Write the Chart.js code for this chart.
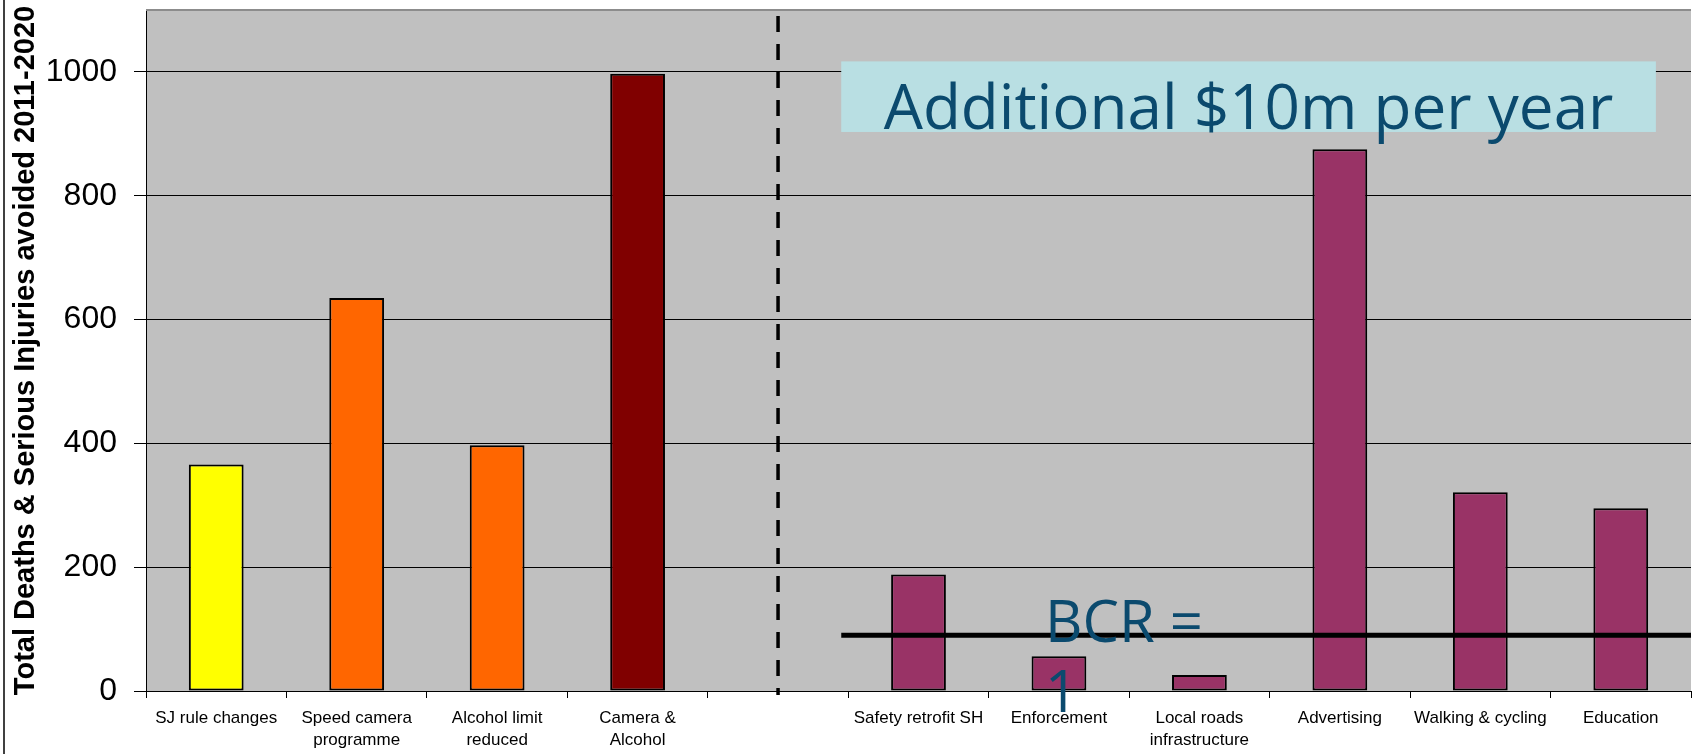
<!DOCTYPE html>
<html>
<head>
<meta charset="utf-8">
<title>Deaths & Serious Injuries avoided</title>
<script src="https://cdn.jsdelivr.net/npm/chart.js@4.4.1/dist/chart.umd.min.js"></script>
<style>
    body { margin: 0; background: #fff; }
    #wrap { position: relative; width: 1693px; height: 754px; }
</style>
</head>
<body>
<div id="wrap"><canvas id="chart-dsi"></canvas></div>
<script>
// categories (slot 5 is the empty gap with the dashed divider)
const categories = [
    "SJ rule changes",
    ["Speed camera", "programme"],
    ["Alcohol limit", "reduced"],
    ["Camera &", "Alcohol"],
    "",
    "Safety retrofit SH",
    "Enforcement",
    ["Local roads", "infrastructure"],
    "Advertising",
    "Walking & cycling",
    "Education",
];
const deathsAvoided = [366, 635, 397, 997, null, 188, 56, 26, 875, 321, 295];
const barColours = [
    "#ffff00", "#ff6600", "#ff6600", "#800000", "#c0c0c0",
    "#993366", "#993366", "#993366", "#993366", "#993366", "#993366",
];
const yTicks = [0, 200, 400, 600, 800, 1000];
const bcrLevel = 90;
const dividerAt = 4;

const boxText = "Additional $10m per year";
const bcrText = ["BCR =", "1"];

const extras = {
    id: "extras",
    beforeDraw(chart) {
        const { ctx, chartArea: a } = chart;
        ctx.save();
        ctx.fillStyle = "#c0c0c0";
        ctx.fillRect(a.left, a.top, a.right - a.left, a.bottom - a.top);
        // outer frame on the left
        ctx.fillStyle = "#404040";
        ctx.fillRect(3, 0, 2, chart.height);
        ctx.restore();
    },
    afterDatasetsDraw(chart) {
        const { ctx, chartArea: a } = chart;
        const x = chart.scales.x;
        const y = chart.scales.y;
        ctx.save();

        // top border of plot
        ctx.strokeStyle = "#8c8c8c";
        ctx.lineWidth = 2;
        ctx.beginPath();
        ctx.moveTo(a.left, a.top);
        ctx.lineTo(a.right, a.top);
        ctx.stroke();

        // dashed divider
        const dx = x.getPixelForValue(dividerAt);
        ctx.strokeStyle = "#000";
        ctx.lineWidth = 3.5;
        ctx.setLineDash([16, 12]);
        ctx.beginPath();
        ctx.moveTo(dx, a.top + 6);
        ctx.lineTo(dx, a.bottom + 4);
        ctx.stroke();
        ctx.setLineDash([]);

        // "Additional $10m per year" box
        const bl = x.getPixelForValue(4.45);
        const br = x.getPixelForValue(10.25);
        const bt = y.getPixelForValue(1017);
        const bb = y.getPixelForValue(903);
        ctx.fillStyle = "#b9dfe3";
        ctx.fillRect(bl, bt, br - bl, bb - bt);
        ctx.fillStyle = "#0b4a6e";
        ctx.font = '62px "Open Sans"';
        ctx.textAlign = "center";
        ctx.textBaseline = "alphabetic";
        ctx.fillText(boxText, (bl + br) / 2, bb - 3);

        // BCR = 1 line
        const ly = y.getPixelForValue(bcrLevel);
        ctx.strokeStyle = "#000";
        ctx.lineWidth = 5;
        ctx.beginPath();
        ctx.moveTo(bl, ly);
        ctx.lineTo(a.right, ly);
        ctx.stroke();

        ctx.fillStyle = "#0b4a6e";
        ctx.font = '58px "Open Sans"';
        ctx.textAlign = "left";
        const tx = x.getPixelForValue(5.9);
        ctx.fillText(bcrText[0], tx, ly + 7);
        ctx.fillText(bcrText[1], tx, ly + 77);

        ctx.restore();
    },
};

new Chart(document.getElementById("chart-dsi"), {
    type: "bar",
    data: {
        labels: categories,
        datasets: [
            {
                label: "Total",
                data: deathsAvoided,
                backgroundColor: barColours,
                borderColor: "#000",
                borderWidth: 2,
                borderSkipped: false,
                barPercentage: 0.39,
                categoryPercentage: 1,
            },
        ],
    },
    options: {
        responsive: true,
        maintainAspectRatio: false,
        animation: false,
        layout: { padding: { top: 10, right: 2, left: 0, bottom: 0 } },
        plugins: {
            legend: { display: false },
            tooltip: { enabled: false },
        },
        scales: {
            x: {
                offset: true,
                grid: {
                    offset: true,
                    drawOnChartArea: false,
                    drawTicks: true,
                    tickLength: 7,
                    color: "#000",
                },
                border: { display: true, color: "#000", width: 1 },
                ticks: {
                    color: "#000",
                    font: { family: "Liberation Sans", size: 17, lineHeight: 1.3 },
                    padding: 9,
                    maxRotation: 0,
                    autoSkip: false,
                },
                afterFit(scale) {
                    scale.height = 63;
                    scale.paddingLeft = 0;
                    scale.paddingRight = 0;
                },
            },
            y: {
                min: 0,
                max: 1100,
                grid: { color: "#000", lineWidth: 1, tickLength: 12 },
                border: { display: true, color: "#000", width: 1 },
                ticks: {
                    color: "#000",
                    font: { family: "Liberation Sans", size: 32 },
                    padding: 17,
                    callback: (v) => String(v),
                },
                afterBuildTicks(scale) {
                    scale.ticks = yTicks.map((v) => ({ value: v }));
                },
                afterFit(scale) {
                    scale.width = 146;
                    scale.paddingTop = 0;
                    scale.paddingBottom = 0;
                },
                title: {
                    display: true,
                    text: "Total Deaths & Serious Injuries avoided 2011-2020",
                    color: "#000",
                    font: { family: "Liberation Sans", size: 29, weight: "bold" },
                    padding: { top: 9, bottom: 0 },
                },
            },
        },
    },
    plugins: [extras],
});
</script>
</body>
</html>
